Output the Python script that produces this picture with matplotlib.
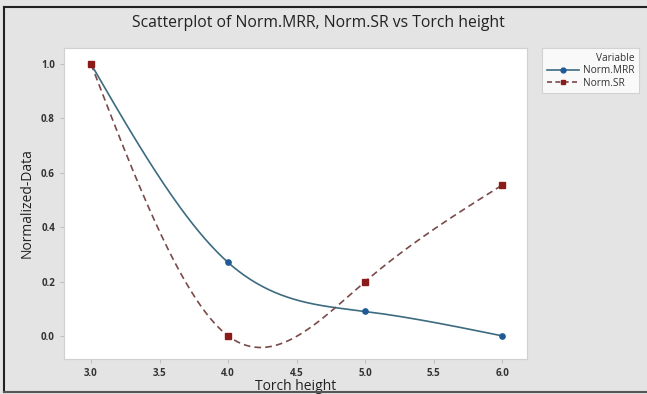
import numpy as np
import matplotlib
matplotlib.use('Agg')
import matplotlib.pyplot as plt
from matplotlib.lines import Line2D

# data dari grafik
torch_height = [3.0, 4.0, 5.0, 6.0]
norm_mrr = [1.0, 0.27, 0.09, 0.0]
norm_sr = [1.0, 0.0, 0.2, 0.555]
x_ticks = [3.0, 3.5, 4.0, 4.5, 5.0, 5.5, 6.0]
y_ticks = [0.0, 0.2, 0.4, 0.6, 0.8, 1.0]


def natural_spline(x, y, n=200):
    # spline kubik natural (seperti garis smooth di Minitab)
    x = np.asarray(x, float)
    y = np.asarray(y, float)
    k = len(x)
    h = np.diff(x)
    A = np.zeros((k, k))
    b = np.zeros(k)
    A[0, 0] = 1
    A[-1, -1] = 1
    for i in range(1, k - 1):
        A[i, i - 1] = h[i - 1]
        A[i, i] = 2 * (h[i - 1] + h[i])
        A[i, i + 1] = h[i]
        b[i] = 6 * ((y[i + 1] - y[i]) / h[i] - (y[i] - y[i - 1]) / h[i - 1])
    M = np.linalg.solve(A, b)
    xs = np.linspace(x[0], x[-1], n)
    ys = np.zeros_like(xs)
    for j, xv in enumerate(xs):
        i = min(np.searchsorted(x, xv, side='right') - 1, k - 2)
        t1 = x[i + 1] - xv
        t0 = xv - x[i]
        ys[j] = (M[i] * t1 ** 3 / (6 * h[i]) + M[i + 1] * t0 ** 3 / (6 * h[i])
                 + (y[i] / h[i] - M[i] * h[i] / 6) * t1
                 + (y[i + 1] / h[i] - M[i + 1] * h[i] / 6) * t0)
    return xs, ys


plt.rcParams['font.family'] = ['Open Sans', 'DejaVu Sans']

fig = plt.figure(figsize=(6.47, 3.94), dpi=100, facecolor='#e4e4e4')
ax = fig.add_axes([64 / 647, 1 - 359 / 394, 463 / 647, 311 / 394])
ax.set_facecolor('white')

mrr_line = '#3d6b80'
mrr_mark = '#1f5a96'
sr_line = '#7a4a4a'
sr_mark = '#8b1a1a'

xs, ys = natural_spline(torch_height, norm_mrr)
ax.plot(xs, ys, color=mrr_line, lw=1.2)
ax.plot(torch_height, norm_mrr, 'o', color=mrr_mark, ms=3.8)

xs, ys = natural_spline(torch_height, norm_sr)
ax.plot(xs, ys, color=sr_line, lw=1.2, ls=(0, (4, 2.5)))
ax.plot(torch_height, norm_sr, 's', color=sr_mark, ms=3.8)

ax.set_xlim(2.803, 6.18)
ax.set_ylim(-0.085, 1.059)
ax.set_xticks(x_ticks)
ax.set_yticks(y_ticks)
ax.set_xticklabels(['%.1f' % v for v in x_ticks])
ax.set_yticklabels(['%.1f' % v for v in y_ticks])
ax.tick_params(labelsize=7, colors='#c0c0c0', labelcolor='#333333', length=3, width=0.8)
for lbl in ax.get_xticklabels() + ax.get_yticklabels():
    lbl.set_fontweight('bold')
for s in ax.spines.values():
    s.set_color('#d0d0d0')
    s.set_linewidth(0.8)

ax.set_xlabel('Torch height', fontsize=10, color='#222222', labelpad=0)
ax.set_ylabel('Normalized-Data', fontsize=10, color='#222222', labelpad=5)
fig.text(318 / 647, 1 - 23 / 394, 'Scatterplot of Norm.MRR, Norm.SR vs Torch height',
         ha='center', va='center', fontsize=11.3, fontweight='medium', color='#222222')

# legenda
handles = [Line2D([], [], color=mrr_line, lw=1.2, marker='o', mfc=mrr_mark, mec=mrr_mark, ms=3.5),
           Line2D([], [], color=sr_line, lw=1.2, ls=(0, (3, 2)), marker='s', mfc=sr_mark, mec=sr_mark, ms=3.5)]
leg = fig.legend(handles, ['Norm.MRR', 'Norm.SR'], title='Variable', loc='upper left',
                 bbox_to_anchor=(542 / 647, 1 - 48 / 394), fontsize=7.3, title_fontsize=7.3,
                 frameon=True, fancybox=False, handlelength=3.2, borderpad=0.45,
                 labelspacing=0.15, handletextpad=0.4, alignment='right', borderaxespad=0)
leg.get_frame().set_edgecolor('#cccccc')
leg.get_frame().set_linewidth(0.8)
for t in leg.get_texts():
    t.set_color('#333333')
leg.get_title().set_color('#333333')

# garis tepi gambar
fig.add_artist(Line2D([4 / 647, 1], [1 - 7 / 394, 1 - 7 / 394], color='#222222', lw=1.5, transform=fig.transFigure))
fig.add_artist(Line2D([4 / 647, 4 / 647], [1 - 7 / 394, 1 - 392 / 394], color='#222222', lw=1.5, transform=fig.transFigure))
fig.add_artist(Line2D([4 / 647, 1], [1 - 392 / 394, 1 - 392 / 394], color='#555555', lw=1.5, transform=fig.transFigure))

fig.savefig('out.png', dpi=100, facecolor=fig.get_facecolor())
